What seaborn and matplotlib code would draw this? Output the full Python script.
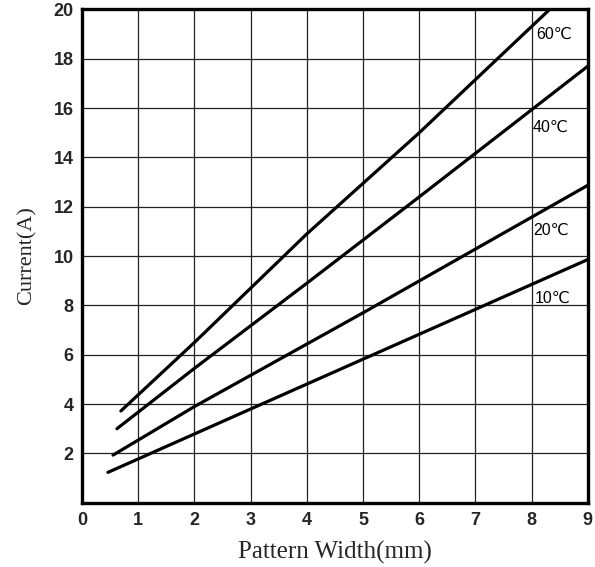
import pandas as pd
import seaborn as sns
import matplotlib.pyplot as plt

# Values
temps = ["10℃", "20℃", "40℃", "60℃"]
width_10 = [0.46, 3.0, 6.0, 9.0]
current_10 = [1.23, 3.8, 6.83, 9.86]
width_20 = [0.55, 2.0, 5.0, 9.0]
current_20 = [1.93, 3.9, 7.7, 12.87]
width_40 = [0.62, 2.0, 4.0, 6.0, 9.0]
current_40 = [3.0, 5.45, 8.9, 12.4, 17.7]
width_60 = [0.69, 2.0, 4.0, 6.0, 8.32]
current_60 = [3.72, 6.5, 10.9, 15.0, 20.0]

x_ticks = list(range(0, 10))
y_ticks = list(range(2, 21, 2))

# label anchor (x, y) near each curve's right end
label_pos = {"10℃": (8.05, 8.3), "20℃": (8.02, 11.05), "40℃": (8.02, 15.2), "60℃": (8.08, 19.0)}

frames = []
for t, xs, ys in zip(temps, [width_10, width_20, width_40, width_60],
                     [current_10, current_20, current_40, current_60]):
    frames.append(pd.DataFrame({"width": xs, "current": ys, "temp": t}))
df = pd.concat(frames, ignore_index=True)

sns.set_style("white")
fig = plt.figure(figsize=(5.95, 5.67), dpi=100)
ax = fig.add_axes([0.138, 0.1134, 0.85, 0.870])

sns.lineplot(data=df, x="width", y="current", hue="temp", units="temp",
             estimator=None, palette=["black"] * 4, linewidth=2.3,
             legend=False, ax=ax, sort=True)

for t, (lx, ly) in label_pos.items():
    ax.text(lx, ly, t, fontsize=11.5, family=["Liberation Sans", "DejaVu Sans"],
            va="center", ha="left", color="black")

ax.set_xlim(0, 9)
ax.set_ylim(0, 20)
ax.set_xticks(x_ticks)
ax.set_yticks(y_ticks)
ax.grid(True, color="#222222", linewidth=0.9)
ax.set_axisbelow(True)
for s in ax.spines.values():
    s.set_visible(True)
    s.set_color("black")
    s.set_linewidth(2.4)

ax.tick_params(axis="both", length=0, labelsize=13)
ax.tick_params(axis="x", pad=7)
ax.tick_params(axis="y", pad=6)
for lab in ax.get_xticklabels() + ax.get_yticklabels():
    lab.set_fontfamily("Liberation Sans")
    lab.set_fontweight("bold")

ax.set_xlabel("Pattern Width(mm)", fontsize=18, fontfamily="Liberation Serif", labelpad=8)
ax.set_ylabel("Current(A)", fontsize=16, fontfamily="Liberation Serif", labelpad=12)

fig.savefig("out.png", dpi=100)
